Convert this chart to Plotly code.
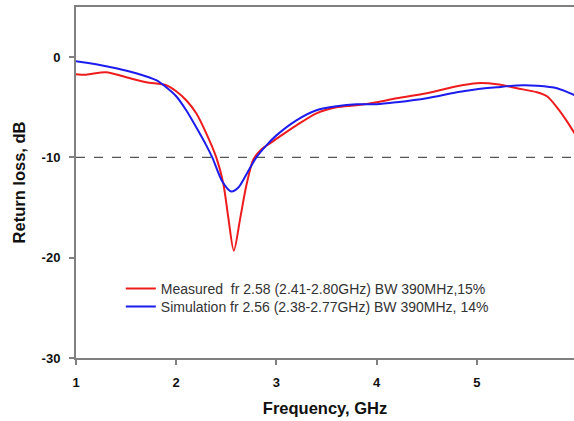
import plotly.graph_objects as go

meas_f = [1.0, 1.1, 1.3, 1.5, 1.7, 1.9, 2.0, 2.1, 2.2, 2.3, 2.4, 2.47, 2.52, 2.575, 2.64, 2.70, 2.77, 2.85, 2.95, 3.05, 3.2, 3.4, 3.6, 3.8, 4.0, 4.2, 4.5, 4.8, 5.0, 5.2, 5.4, 5.6, 5.7, 5.8, 5.9, 6.0]
meas_db = [-1.7, -1.75, -1.5, -2.0, -2.5, -2.8, -3.4, -4.3, -5.6, -7.6, -10.0, -12.6, -16.0, -19.3, -16.0, -12.8, -10.2, -9.2, -8.5, -7.8, -6.8, -5.6, -5.0, -4.8, -4.5, -4.1, -3.6, -2.9, -2.6, -2.7, -3.1, -3.5, -3.9, -5.0, -6.4, -8.0]

sim_f = [1.0, 1.2, 1.4, 1.6, 1.8, 1.9, 2.0, 2.1, 2.2, 2.3, 2.36, 2.46, 2.55, 2.62, 2.7, 2.8, 2.9, 3.0, 3.2, 3.4, 3.6, 3.8, 4.0, 4.2, 4.5, 4.8, 5.0, 5.2, 5.46, 5.6, 5.8, 6.0]
sim_db = [-0.4, -0.7, -1.1, -1.6, -2.3, -3.0, -3.9, -5.3, -7.0, -8.8, -10.0, -12.4, -13.4, -13.0, -11.7, -10.0, -8.8, -7.8, -6.3, -5.3, -4.9, -4.7, -4.7, -4.5, -4.1, -3.5, -3.2, -3.0, -2.8, -2.85, -3.1, -3.9]

x_ticks = [1, 2, 3, 4, 5, 6]
y_ticks = [0, -10, -20, -30]
threshold = -10

fig = go.Figure()
fig.add_trace(go.Scatter(x=meas_f, y=meas_db, mode="lines",
                         line=dict(color="#ee1c1c", width=2, shape="spline", smoothing=0.8),
                         name="Measured  fr 2.58 (2.41-2.80GHz) BW 390MHz,15%", legend="legend"))
fig.add_trace(go.Scatter(x=sim_f, y=sim_db, mode="lines",
                         line=dict(color="#1c1cee", width=2, shape="spline", smoothing=0.8),
                         name="Simulation fr 2.56 (2.38-2.77GHz) BW 390MHz, 14%", legend="legend2"))

fig.add_shape(type="line", xref="paper", x0=0, x1=1, yref="y", y0=threshold, y1=threshold,
              line=dict(color="#555555", width=1.2, dash="dash"), layer="below")

leg_common = dict(xanchor="left", yanchor="middle", bgcolor="rgba(0,0,0,0)",
                  font=dict(size=14, color="#333333"), itemwidth=30)

fig.update_layout(
    width=574, height=421,
    margin=dict(l=76, r=0, t=7, b=63),
    paper_bgcolor="white", plot_bgcolor="white",
    font=dict(family="Liberation Sans, Arial, sans-serif", color="#111111"),
    showlegend=True,
    legend=dict(x=0.090, y=0.1966, **leg_common),
    legend2=dict(x=0.090, y=0.1453, **leg_common),
    xaxis=dict(range=[1, 5.97], tickvals=x_ticks, ticktext=[f"<b>{v}</b>" for v in x_ticks],
               ticks="outside", ticklen=5, tickcolor="#808080", tickwidth=1.5, ticklabelstandoff=6,
               showline=True, linecolor="#808080", linewidth=2, mirror=True,
               showgrid=False, zeroline=False, tickfont=dict(size=13, color="#111111"),
               title=dict(text="<b>Frequency, GHz</b>", font=dict(size=16.5, color="#111111"), standoff=14)),
    yaxis=dict(range=[-30, 5], tickvals=y_ticks, ticktext=[f"<b>{v}</b>" for v in y_ticks],
               ticks="outside", ticklen=5, tickcolor="#808080", tickwidth=1.5, ticklabelstandoff=6,
               showline=True, linecolor="#808080", linewidth=2,
               showgrid=False, zeroline=False, tickfont=dict(size=13, color="#111111"),
               title=dict(text="<b>Return loss, dB</b>", font=dict(size=16.5, color="#111111"), standoff=12)),
)

fig.write_html("out.html", config={"displayModeBar": False},
               post_script="document.body.style.margin='0px';")
